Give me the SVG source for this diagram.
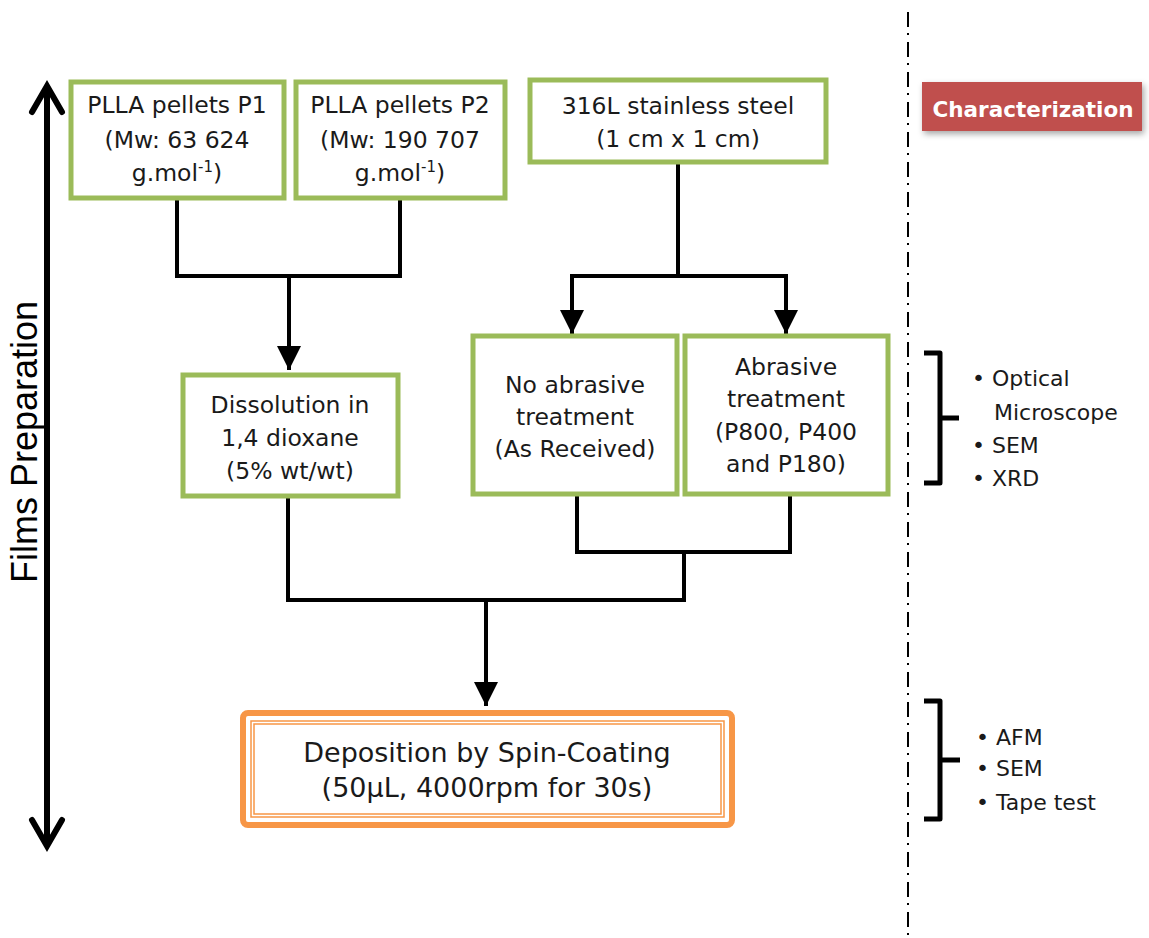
<svg xmlns="http://www.w3.org/2000/svg" width="1149" height="938" viewBox="0 0 1149 938">
<style>
.box{fill:#fff;stroke:#9BBB59;stroke-width:5}
.t{font-family:"DejaVu Sans","Verdana",sans-serif;font-size:23.5px;fill:#1a1a1a;text-anchor:middle}
.l{font-family:"DejaVu Sans","Verdana",sans-serif;font-size:22px;fill:#1a1a1a}
.s{font-size:27px}
.c{fill:none;stroke:#000;stroke-width:4}
.br{fill:none;stroke:#000;stroke-width:5;stroke-linejoin:round}
</style>
<defs>
<marker id="ah" viewBox="0 0 10 10" refX="10" refY="5" markerWidth="6" markerHeight="6" markerUnits="strokeWidth" orient="auto">
<path d="M0,0 L10,5 L0,10 z" fill="#000"/>
</marker>
<filter id="sh" x="-10%" y="-20%" width="130%" height="160%">
<feDropShadow dx="2" dy="3" stdDeviation="3" flood-color="#000" flood-opacity="0.35"/>
</filter>
</defs>
<rect width="1149" height="938" fill="#fff"/>
<line x1="908" y1="12" x2="908" y2="938" stroke="#000" stroke-width="2" stroke-dasharray="15 6 2 7"/>
<g id="axis">
<line x1="47" y1="86" x2="47" y2="846" stroke="#000" stroke-width="6"/>
<polyline points="32,112 47,86 62,112" fill="none" stroke="#000" stroke-width="6" stroke-linejoin="miter" stroke-linecap="round"/>
<polyline points="32,820 47,846 62,820" fill="none" stroke="#000" stroke-width="6" stroke-linejoin="miter" stroke-linecap="round"/>
<text transform="translate(37,442) rotate(-90)" text-anchor="middle" font-family="Liberation Sans, Arial, sans-serif" font-size="36" fill="#000">Films Preparation</text>
</g>
<g id="connectors">
<polyline class="c" points="177,198 177,276 400,276 400,198"/>
<line class="c" x1="289" y1="276" x2="289" y2="370" marker-end="url(#ah)"/>
<polyline class="c" points="678,162 678,276"/>
<polyline class="c" points="572,276 786,276"/>
<line class="c" x1="572" y1="274" x2="572" y2="334" marker-end="url(#ah)"/>
<line class="c" x1="786" y1="274" x2="786" y2="334" marker-end="url(#ah)"/>
<polyline class="c" points="577,494 577,552 790,552 790,494"/>
<polyline class="c" points="288,496 288,600 684,600 684,552"/>
<line class="c" x1="486" y1="600" x2="486" y2="706" marker-end="url(#ah)"/>
</g>
<g id="p1">
<rect class="box" x="71" y="82" width="213" height="116"/>
<text class="t" x="177" y="113">PLLA pellets P1</text>
<text class="t" x="177" y="148">(Mw: 63 624</text>
<text class="t" x="177" y="181">g.mol<tspan font-size="15" dy="-9">-1</tspan><tspan dy="9">)</tspan></text>
</g>
<g id="p2">
<rect class="box" x="296" y="82" width="209" height="116"/>
<text class="t" x="400" y="113">PLLA pellets P2</text>
<text class="t" x="400" y="148">(Mw: 190 707</text>
<text class="t" x="400" y="181">g.mol<tspan font-size="15" dy="-9">-1</tspan><tspan dy="9">)</tspan></text>
</g>
<g id="steel">
<rect class="box" x="530" y="80" width="296" height="82"/>
<text class="t" x="678" y="114">316L stainless steel</text>
<text class="t" x="678" y="147">(1 cm x 1 cm)</text>
</g>
<g id="dissolution">
<rect class="box" x="183" y="375" width="215" height="121"/>
<text class="t" x="290" y="413">Dissolution in</text>
<text class="t" x="290" y="446">1,4 dioxane</text>
<text class="t" x="290" y="479">(5% wt/wt)</text>
</g>
<g id="noabrasive">
<rect class="box" x="473" y="336" width="204" height="158"/>
<text class="t" x="575" y="393">No abrasive</text>
<text class="t" x="575" y="425">treatment</text>
<text class="t" x="575" y="457">(As Received)</text>
</g>
<g id="abrasive">
<rect class="box" x="685" y="336" width="203" height="158"/>
<text class="t" x="786" y="375">Abrasive</text>
<text class="t" x="786" y="407">treatment</text>
<text class="t" x="786" y="440">(P800, P400</text>
<text class="t" x="786" y="472">and P180)</text>
</g>
<g id="spin">
<rect x="243" y="713" width="489" height="112" rx="5" fill="#fff" stroke="#F79646" stroke-width="6"/>
<rect x="251" y="721" width="473" height="96" fill="none" stroke="#F79646" stroke-width="1.5"/>
<rect x="254" y="724" width="467" height="90" fill="none" stroke="#F79646" stroke-width="1.5"/>
<text class="t s" x="487" y="762">Deposition by Spin-Coating</text>
<text class="t s" x="487" y="797">(50µL, 4000rpm for 30s)</text>
</g>
<g id="characterization">
<rect x="922" y="82" width="220" height="49" fill="#C0504D" filter="url(#sh)"/>
<text x="1033" y="117" text-anchor="middle" font-family="DejaVu Sans, Verdana, sans-serif" font-weight="bold" font-size="21.5" fill="#fff">Characterization</text>
</g>
<g id="char1">
<path class="br" d="M924,353 H940 V483 H924 M940,418 H959"/>
<text class="l" x="972" y="386">• Optical</text>
<text class="l" x="994" y="420">Microscope</text>
<text class="l" x="972" y="453">• SEM</text>
<text class="l" x="972" y="486">• XRD</text>
</g>
<g id="char2">
<path class="br" d="M924,701 H940 V819 H924 M940,760 H960"/>
<text class="l" x="976" y="745">• AFM</text>
<text class="l" x="976" y="776">• SEM</text>
<text class="l" x="976" y="810">• Tape test</text>
</g>
</svg>
